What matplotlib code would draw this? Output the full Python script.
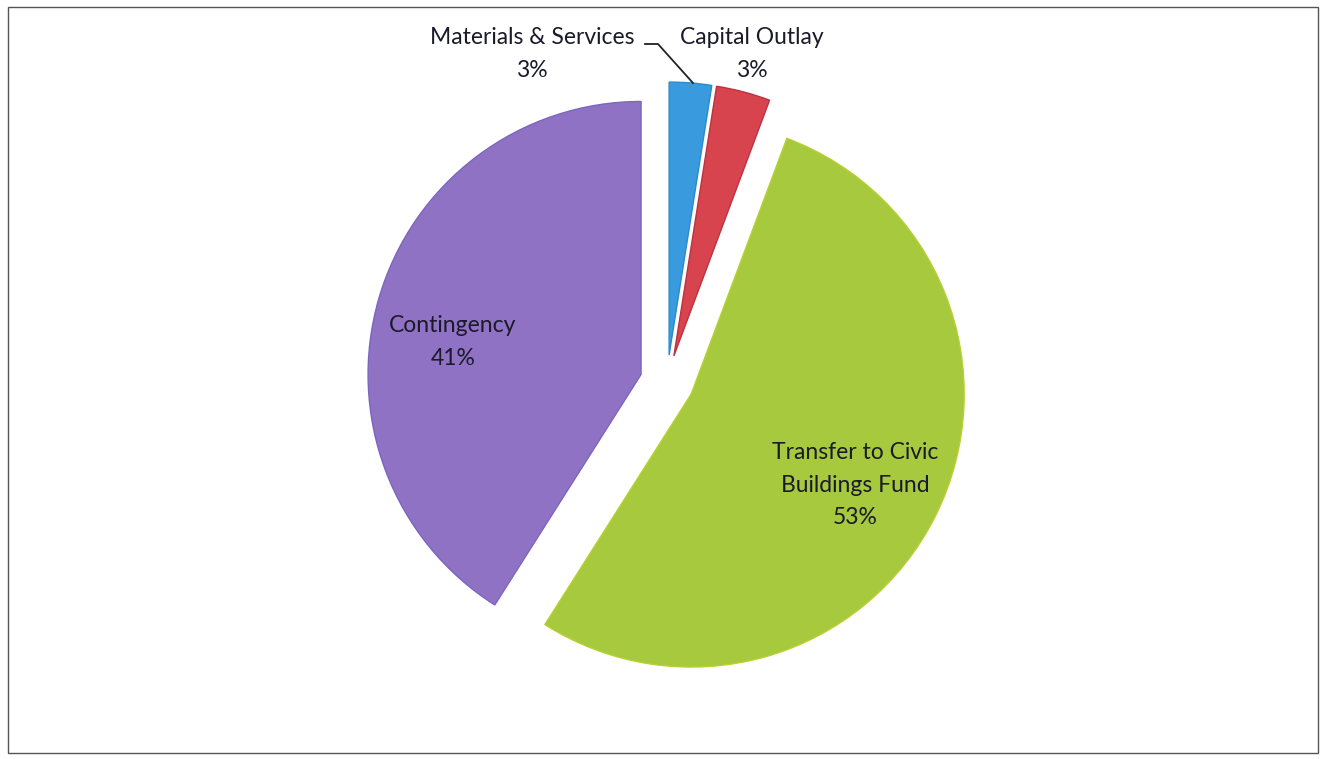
import matplotlib.pyplot as plt
from matplotlib.patches import Rectangle

labels = ['Materials & Services', 'Capital Outlay', 'Transfer to Civic\nBuildings Fund', 'Contingency']
values = [2.5, 3.2, 53.3, 41.0]
pct = ['3%', '3%', '53%', '41%']
colors = ['#3a9ade', '#d8444e', '#a6c93e', '#9072c4']
edges = ['#2a8ad0', '#c03040', '#b8d030', '#7a66c0']

plt.rcParams['font.family'] = ['Lato', 'DejaVu Sans']

fig = plt.figure(figsize=(13.24, 7.59), dpi=100)
ax = fig.add_axes([0, 0, 1, 1])

# explode is in data units (pixels here)
wedges, _ = ax.pie(values, colors=colors, startangle=90, counterclock=False,
                   center=(667, 377), radius=273, explode=[27] * 4,
                   wedgeprops={'linewidth': 1}, frame=True)
for w, ec in zip(wedges, edges):
    w.set_edgecolor(ec)
ax.set_xlim(0, 1324)
ax.set_ylim(0, 759)
ax.set_aspect('equal')
ax.axis('off')

txt = dict(fontsize=16.5, color='#1a1a2a', ha='center', va='center', linespacing=1.7)
ax.text(453, 417, labels[3] + '\n' + pct[3], **txt)
ax.text(855, 274, labels[2] + '\n' + pct[2], **txt)
ax.text(532, 705, labels[0] + '\n' + pct[0], **txt)
ax.text(752, 705, labels[1] + '\n' + pct[1], **txt)
# leader line for the small slice
ax.plot([645, 658, 693], [715, 715, 676], color='#222222', lw=1.3)

fig.patches.append(Rectangle((8 / 1324, 6 / 759), 1310 / 1324, 746 / 759,
                             transform=fig.transFigure, fill=False,
                             edgecolor='#555555', lw=1))
fig.savefig('out.png', dpi=100)
